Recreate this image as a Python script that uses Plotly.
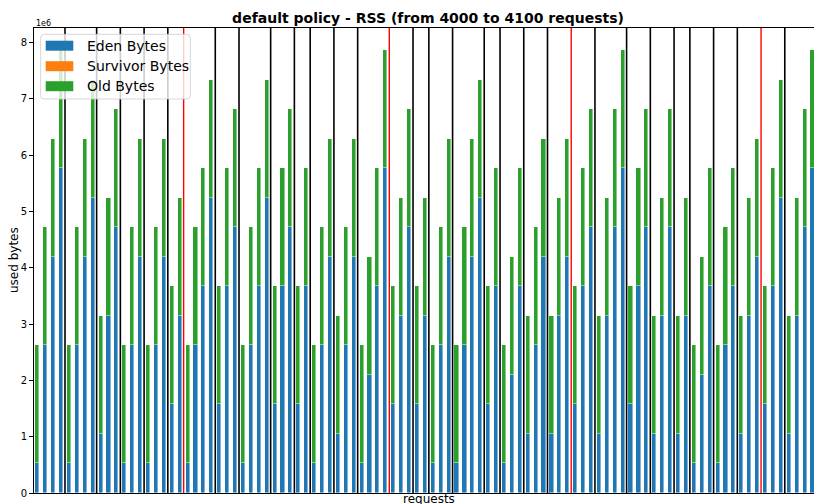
import plotly.graph_objects as go

# ---- data ----
requests = list(range(4000, 4099))
# Eden usage per request, in MiB
eden_mib = [0.5, 2.5, 4.0, 5.5, 0.5, 2.5, 4.0, 5.0, 1.0, 3.0, 4.5,
            0.5, 2.5, 4.0, 0.5, 2.5, 4.0, 1.5, 3.0, 0.5, 2.5, 3.5, 5.0,
            1.5, 3.5, 4.5, 0.5, 2.5, 3.5, 5.0, 1.5, 3.5, 4.5, 1.5, 3.5,
            0.5, 2.5, 4.0, 1.0, 2.5, 4.0, 0.5, 2.0, 3.5, 5.5, 1.5, 3.0, 4.5,
            1.5, 3.0, 0.5, 2.5, 4.0, 0.5, 2.5, 4.0, 5.0, 1.5, 3.5,
            0.5, 2.0, 3.5, 1.0, 2.5, 4.0, 1.0, 3.0, 4.0, 1.5, 3.5, 4.5,
            1.0, 3.0, 4.5, 5.5, 1.5, 3.5, 4.5, 1.0, 3.0, 4.5, 1.0, 3.0,
            0.5, 2.0, 3.5, 0.5, 2.5, 3.5, 1.0, 3.0, 4.0, 1.5, 3.5, 5.0,
            1.0, 3.0, 4.5, 5.5]
survivor_mib = [0.0, 0.0, 0.0, 0.0, 0.0, 0.0, 0.0, 0.0, 0.0, 0.0, 0.0,
                0.0, 0.0, 0.0, 0.0, 0.0, 0.0, 0.0, 0.0, 0.0, 0.0, 0.0, 0.0,
                0.0, 0.0, 0.0, 0.0, 0.0, 0.0, 0.0, 0.0, 0.0, 0.0, 0.0, 0.0,
                0.0, 0.0, 0.0, 0.0, 0.0, 0.0, 0.0, 0.0, 0.0, 0.0, 0.0, 0.0, 0.0,
                0.0, 0.0, 0.0, 0.0, 0.0, 0.0, 0.0, 0.0, 0.0, 0.0, 0.0,
                0.0, 0.0, 0.0, 0.0, 0.0, 0.0, 0.0, 0.0, 0.0, 0.0, 0.0, 0.0,
                0.0, 0.0, 0.0, 0.0, 0.0, 0.0, 0.0, 0.0, 0.0, 0.0, 0.0, 0.0,
                0.0, 0.0, 0.0, 0.0, 0.0, 0.0, 0.0, 0.0, 0.0, 0.0, 0.0, 0.0,
                0.0, 0.0, 0.0, 0.0]
old_mib = [2.0, 2.0, 2.0, 2.0, 2.0, 2.0, 2.0, 2.0, 2.0, 2.0, 2.0,
           2.0, 2.0, 2.0, 2.0, 2.0, 2.0, 2.0, 2.0, 2.0, 2.0, 2.0, 2.0,
           2.0, 2.0, 2.0, 2.0, 2.0, 2.0, 2.0, 2.0, 2.0, 2.0, 2.0, 2.0,
           2.0, 2.0, 2.0, 2.0, 2.0, 2.0, 2.0, 2.0, 2.0, 2.0, 2.0, 2.0, 2.0,
           2.0, 2.0, 2.0, 2.0, 2.0, 2.0, 2.0, 2.0, 2.0, 2.0, 2.0,
           2.0, 2.0, 2.0, 2.0, 2.0, 2.0, 2.0, 2.0, 2.0, 2.0, 2.0, 2.0,
           2.0, 2.0, 2.0, 2.0, 2.0, 2.0, 2.0, 2.0, 2.0, 2.0, 2.0, 2.0,
           2.0, 2.0, 2.0, 2.0, 2.0, 2.0, 2.0, 2.0, 2.0, 2.0, 2.0, 2.0,
           2.0, 2.0, 2.0, 2.0]
# GC events (between requests)
minor_gc = [4003.5, 4007.5, 4010.5, 4013.5, 4016.5, 4022.5, 4025.5, 4029.5,
            4032.5, 4034.5, 4037.5, 4040.5, 4047.5, 4049.5, 4052.5, 4056.5,
            4058.5, 4061.5, 4064.5, 4070.5, 4074.5, 4077.5, 4080.5, 4082.5,
            4085.5, 4088.5, 4094.5]
full_gc = [4018.5, 4044.5, 4067.5, 4091.5]
y_tick_vals = [0, 1e6, 2e6, 3e6, 4e6, 5e6, 6e6, 7e6, 8e6]
y_tick_text = ["0", "1", "2", "3", "4", "5", "6", "7", "8"]

MIB = 1048576
eden = [v * MIB for v in eden_mib]
surv = [v * MIB for v in survivor_mib]
old = [v * MIB for v in old_mib]

# ---- layout geometry (page pixels; body margin removed by post_script) ----
W, H = 814, 504
OFF = 0
AX_L, AX_R, AX_T, AX_B = 34, 814, 28, 493   # visible axes box in page pixels
PITCH, X0PX = 7.91, 37.3                     # bar pitch / first bar centre (page px)
L = AX_L - OFF
T = AX_T - OFF
R = W - (AX_R - OFF)
B = H - (AX_B - OFF)
PW, PH = W - L - R, H - T - B
def px(x):
    return (x - OFF - L) / PW
def py(y):
    return (H - B - (y - OFF)) / PH

FONT = "DejaVu Sans"
fig = go.Figure()
edge = dict(color="rgba(255,255,255,0.55)", width=0.8)
fig.add_trace(go.Bar(x=requests, y=eden, name="Eden Bytes", width=0.52,
                     marker=dict(color="#1f77b4", line=edge), showlegend=False))
fig.add_trace(go.Bar(x=requests, y=surv, name="Survivor Bytes", width=0.52,
                     marker=dict(color="#ff7f0e", line=dict(width=0)), showlegend=False))
fig.add_trace(go.Bar(x=requests, y=old, name="Old Bytes", width=0.52,
                     marker=dict(color="#2ca02c", line=edge), showlegend=False))

shapes = []
for g in minor_gc:
    shapes.append(dict(type="line", xref="x", yref="paper", x0=g, x1=g, y0=0, y1=1,
                       line=dict(color="black", width=1.6), layer="above"))
for g in full_gc:
    shapes.append(dict(type="line", xref="x", yref="paper", x0=g, x1=g, y0=0, y1=1,
                       line=dict(color="red", width=1.4), layer="above"))

# legend box (rounded)
bx0, bx1, by0, by1, r = 40.7, 190.3, 34.3, 99.0, 3.5
x0, x1, y0, y1 = px(bx0), px(bx1), py(by0), py(by1)
rx, ry = r / PW, r / PH
path = (f"M {x0+rx},{y0} L {x1-rx},{y0} Q {x1},{y0} {x1},{y0-ry} "
        f"L {x1},{y1+ry} Q {x1},{y1} {x1-rx},{y1} L {x0+rx},{y1} "
        f"Q {x0},{y1} {x0},{y1+ry} L {x0},{y0-ry} Q {x0},{y0} {x0+rx},{y0} Z")
shapes.append(dict(type="path", xref="paper", yref="paper", path=path,
                   fillcolor="rgba(255,255,255,0.8)",
                   line=dict(color="rgba(204,204,204,0.8)", width=1), layer="above"))

annotations = []
legend_items = [("Eden Bytes", "#1f77b4", 45.7), ("Survivor Bytes", "#ff7f0e", 66.2),
                ("Old Bytes", "#2ca02c", 86.2)]
for label, col, yc in legend_items:
    shapes.append(dict(type="rect", xref="paper", yref="paper",
                       x0=px(45.7), x1=px(73.3), y0=py(yc - 5), y1=py(yc + 5),
                       fillcolor=col, line=dict(width=0), layer="above"))
    annotations.append(dict(text=label, xref="paper", yref="paper", x=px(84.5), y=py(yc),
                            xanchor="left", yanchor="middle", showarrow=False,
                            font=dict(family=FONT, size=14, color="black")))

annotations.append(dict(text="1e6", xref="paper", yref="paper", x=px(34), y=py(23),
                        xanchor="left", yanchor="middle", showarrow=False,
                        font=dict(family=FONT, size=8, color="black")))
annotations.append(dict(text="used bytes", xref="paper", yref="paper", x=px(14), y=py(260),
                        xanchor="center", yanchor="middle", textangle=-90, showarrow=False,
                        font=dict(family=FONT, size=12, color="black")))
annotations.append(dict(text="requests", xref="paper", yref="paper", x=px(429), y=py(499),
                        xanchor="center", yanchor="middle", showarrow=False,
                        font=dict(family=FONT, size=12, color="black")))

fig.update_layout(
    width=W, height=H, barmode="stack", bargap=0,
    margin=dict(l=L, r=R, t=T, b=B, autoexpand=False),
    paper_bgcolor="white", plot_bgcolor="white",
    title=dict(text="<b>default policy - RSS (from 4000 to 4100 requests)</b>",
               x=(428 - OFF) / W, xref="container", xanchor="center",
               y=1 - (18 - OFF) / H, yref="container", yanchor="middle",
               font=dict(family=FONT, size=14, color="black")),
    shapes=shapes, annotations=annotations,
    showlegend=False, hovermode=False,
    font=dict(family=FONT, color="black"),
)
fig.update_xaxes(range=[4000 - (X0PX - AX_L) / PITCH, 4000 + (AX_R - X0PX) / PITCH],
                 showticklabels=False, ticks="", showgrid=False, zeroline=False,
                 showline=True, linecolor="black", linewidth=1, mirror=True)
fig.update_yaxes(range=[0, 8257536], tickvals=y_tick_vals, ticktext=y_tick_text,
                 ticks="outside", ticklen=4, tickwidth=1, tickcolor="black",
                 tickfont=dict(family=FONT, size=10, color="black"),
                 showgrid=False, zeroline=False, showline=True, linecolor="black",
                 linewidth=1, mirror=False)

fig.write_html("out.html",
               config={"displayModeBar": False},
               post_script="document.body.style.margin='0px';"
                           "document.documentElement.style.overflow='hidden';"
                           "document.body.style.overflow='hidden';")
